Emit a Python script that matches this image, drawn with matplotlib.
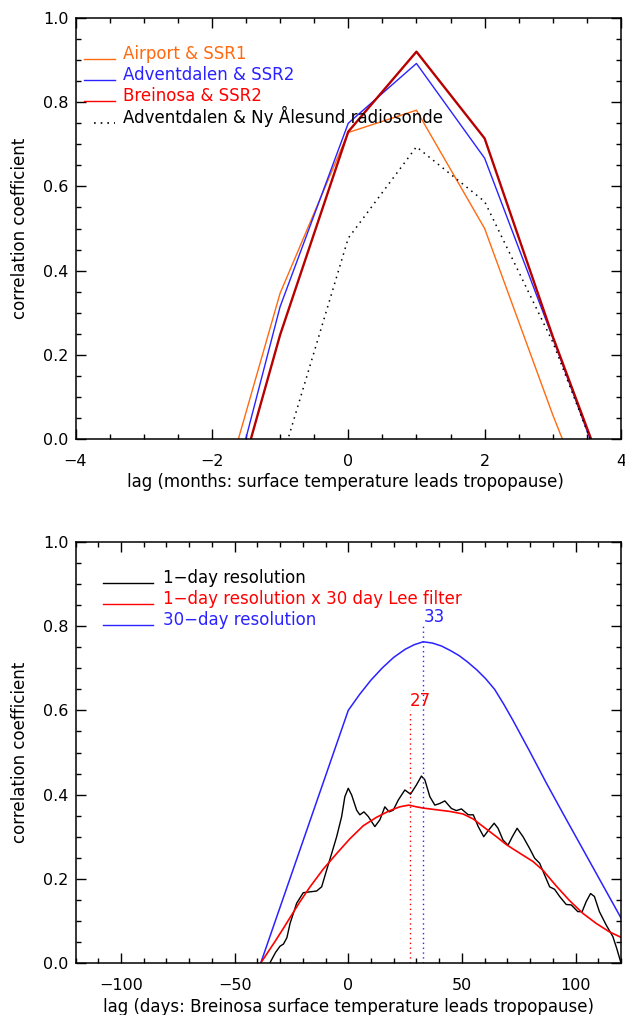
import matplotlib
matplotlib.use("Agg")
import matplotlib.pyplot as plt
from matplotlib.ticker import MultipleLocator, FuncFormatter

plt.rcParams['font.family'] = ['DejaVu Sans']
plt.rcParams['axes.unicode_minus'] = True

# ---- monthly lag correlations (lag in months) ----
lag_months = [-2, -1, 0, 1, 2, 3, 4]
airport_ssr1 = [-0.22, 0.346, 0.728, 0.781, 0.500, 0.057, -0.35]
adventdalen_ssr2 = [-0.31, 0.314, 0.750, 0.892, 0.667, 0.240, -0.20]
breinosa_ssr2 = [-0.33, 0.247, 0.730, 0.920, 0.714, 0.243, -0.19]
lag_sonde = [-1, 0, 1, 2, 3, 4]
adventdalen_sonde = [-0.063, 0.477, 0.694, 0.564, 0.230, -0.19]

top_labels = ["Airport & SSR1", "Adventdalen & SSR2", "Breinosa & SSR2",
              "Adventdalen & Ny \u00c5lesund radiosonde"]

# ---- daily lag correlations (lag in days) ----
days_1d = [-35.0, -34.5, -32.0, -30.0, -28.5, -27.0, -25.6, -22.7, -19.8, -16.8,
           -13.9, -11.7, -9.5, -7.3, -5.1, -2.9, -1.5, 0.0, 1.5, 3.7, 5.1,
           6.9, 8.8, 11.7, 13.9, 16.1, 18.0, 19.8, 22.0, 24.9, 27.4, 30.0,
           32.2, 33.7, 35.9, 38.1, 40.3, 42.5, 45.4, 47.6, 49.8, 52.8, 55.0,
           57.2, 59.6, 61.8, 64.2, 65.9, 68.1, 70.3, 72.2, 74.3, 76.9, 79.8,
           82.0, 84.2, 86.4, 88.6, 90.8, 93.0, 95.9, 98.1, 101.0, 102.9,
           104.7, 106.6, 108.3, 110.5, 113.5, 116.4, 118.1, 120.0]
corr_1d = [-0.01, 0.0, 0.025, 0.040, 0.045, 0.060, 0.094, 0.142, 0.167, 0.169,
           0.171, 0.181, 0.221, 0.260, 0.300, 0.348, 0.395, 0.415, 0.399,
           0.363, 0.352, 0.359, 0.348, 0.324, 0.340, 0.371, 0.359, 0.363,
           0.387, 0.411, 0.401, 0.423, 0.444, 0.435, 0.395, 0.375, 0.379,
           0.385, 0.367, 0.362, 0.366, 0.352, 0.352, 0.324, 0.300, 0.316,
           0.332, 0.320, 0.292, 0.280, 0.300, 0.320, 0.300, 0.272, 0.249,
           0.237, 0.209, 0.181, 0.175, 0.158, 0.139, 0.138, 0.122, 0.122,
           0.146, 0.165, 0.158, 0.122, 0.090, 0.063, 0.035, 0.000]

days_lee = [-38.5, -32.0, -28.0, -25.6, -21.2, -16.8, -11.0, -5.1, 0.7, 6.6,
            12.4, 18.3, 22.7, 26.6, 30.0, 32.9, 38.8, 44.7, 50.5, 55.0, 60.8,
            65.2, 69.6, 75.4, 81.3, 85.7, 91.5, 97.4, 103.2, 109.1, 114.9,
            120.0]
corr_lee = [0.0, 0.053, 0.087, 0.108, 0.146, 0.181, 0.223, 0.260, 0.295,
            0.326, 0.346, 0.362, 0.371, 0.375, 0.371, 0.368, 0.364, 0.360,
            0.354, 0.342, 0.318, 0.300, 0.281, 0.261, 0.241, 0.220, 0.183,
            0.148, 0.118, 0.094, 0.074, 0.061]

days_30d = [-38.5, 0.0, 5.0, 10.0, 15.0, 20.0, 25.0, 29.0, 33.0, 37.0, 41.0,
            45.0, 48.8, 52.5, 56.6, 60.5, 64.4, 68.5, 72.5, 76.0, 79.8, 87.1,
            94.4, 101.8, 109.1, 120.0]
corr_30d = [0.0, 0.600, 0.638, 0.672, 0.701, 0.726, 0.745, 0.756, 0.763,
            0.760, 0.753, 0.742, 0.730, 0.715, 0.696, 0.675, 0.650, 0.614,
            0.576, 0.541, 0.503, 0.428, 0.356, 0.284, 0.213, 0.107]

bottom_labels = ["1\u2212day resolution",
                 "1\u2212day resolution x 30 day Lee filter",
                 "30\u2212day resolution"]
peak_lee, peak_lee_level = 27, 0.6
peak_30d, peak_30d_level = 33, 0.8

ORANGE = '#ff6a10'
BLUE = '#2a22ff'
RED = '#ff0000'
DARKRED = '#b80000'
FS = 12

fig = plt.figure(figsize=(6.25, 10.15), dpi=100)
ax1 = fig.add_axes([75.5 / 625, 1 - 439 / 1015, 545.5 / 625, 421 / 1015])
ax2 = fig.add_axes([75.5 / 625, 1 - 963 / 1015, 545.5 / 625, 421 / 1015])


def style_axes(ax):
    for s in ax.spines.values():
        s.set_linewidth(1.1)
    ax.tick_params(which='both', direction='in', top=True, right=True,
                   width=1.0, labelsize=11.5)
    ax.tick_params(which='major', length=7.5)
    ax.tick_params(which='minor', length=3.8)
    ax.tick_params(axis='x', which='major', pad=11)
    ax.tick_params(axis='y', which='major', pad=5)
    ax.set_ylim(0, 1)
    ax.yaxis.set_major_locator(MultipleLocator(0.2))
    ax.yaxis.set_minor_locator(MultipleLocator(0.05))
    ax.yaxis.set_major_formatter(FuncFormatter(lambda v, p: f"{v:.1f}"))


def legend_rows(ax, x0, x1, xt, labels, colors, styles):
    ys = [0.902, 0.852, 0.803, 0.751]
    for y, lab, c, ls in zip(ys, labels, colors, styles):
        if ls == ':':
            ax.plot([x0 + 0.018, x1], [y, y], color=c, lw=1.2,
                    linestyle=(0, (1, 3)), transform=ax.transAxes, clip_on=False)
        else:
            ax.plot([x0, x1], [y, y], color=c, lw=1.0, transform=ax.transAxes)
        ax.text(xt, y, lab, color=c, fontsize=FS, va='baseline', ha='left',
                transform=ax.transAxes)


# ---- upper panel ----
style_axes(ax1)
ax1.set_xlim(-4, 4)
ax1.xaxis.set_major_locator(MultipleLocator(2))
ax1.xaxis.set_minor_locator(MultipleLocator(0.5))
ax1.plot(lag_months, airport_ssr1, color=ORANGE, lw=1.0)
ax1.plot(lag_months, adventdalen_ssr2, color=BLUE, lw=1.0)
ax1.plot(lag_months, breinosa_ssr2, color=DARKRED, lw=1.7)
ax1.plot(lag_sonde, adventdalen_sonde, color='black', lw=1.1,
         linestyle=(0, (1, 3)))
legend_rows(ax1, 0.0156, 0.0724, 0.087, top_labels,
            [ORANGE, BLUE, RED, 'black'], ['-', '-', '-', ':'])

# ---- lower panel ----
style_axes(ax2)
ax2.set_xlim(-120, 120)
ax2.xaxis.set_major_locator(MultipleLocator(50))
ax2.xaxis.set_minor_locator(MultipleLocator(10))
ax2.plot(days_30d, corr_30d, color=BLUE, lw=1.1)
ax2.plot(days_1d, corr_1d, color='black', lw=1.0)
ax2.plot(days_lee, corr_lee, color=RED, lw=1.2)
ax2.plot([peak_lee, peak_lee], [0, peak_lee_level], color=RED, lw=1.0,
         linestyle=(0, (1, 2.5)))
ax2.plot([peak_30d, peak_30d], [0, peak_30d_level], color=BLUE, lw=1.0,
         linestyle=(0, (1, 2.5)))
ax2.text(peak_lee, peak_lee_level, str(peak_lee), color=RED, fontsize=FS,
         ha='left', va='bottom')
ax2.text(peak_30d, peak_30d_level, str(peak_30d), color=BLUE, fontsize=FS,
         ha='left', va='bottom')
legend_rows(ax2, 0.0495, 0.142, 0.160, bottom_labels,
            ['black', RED, BLUE], ['-', '-', '-'])

# ---- axis titles ----
fig.text(20 / 625, 1 - 228.5 / 1015, "correlation coefficient", rotation=90,
         ha='center', va='center', fontsize=FS)
fig.text(20 / 625, 1 - 752.5 / 1015, "correlation coefficient", rotation=90,
         ha='center', va='center', fontsize=FS)
fig.text(345 / 625, 1 - 482 / 1015,
         "lag (months: surface temperature leads tropopause)",
         ha='center', va='center', fontsize=FS)
fig.text(348.5 / 625, 1 - 1006.5 / 1015,
         "lag (days: Breinosa surface temperature leads tropopause)",
         ha='center', va='center', fontsize=FS)

fig.savefig("out.png", dpi=100)
